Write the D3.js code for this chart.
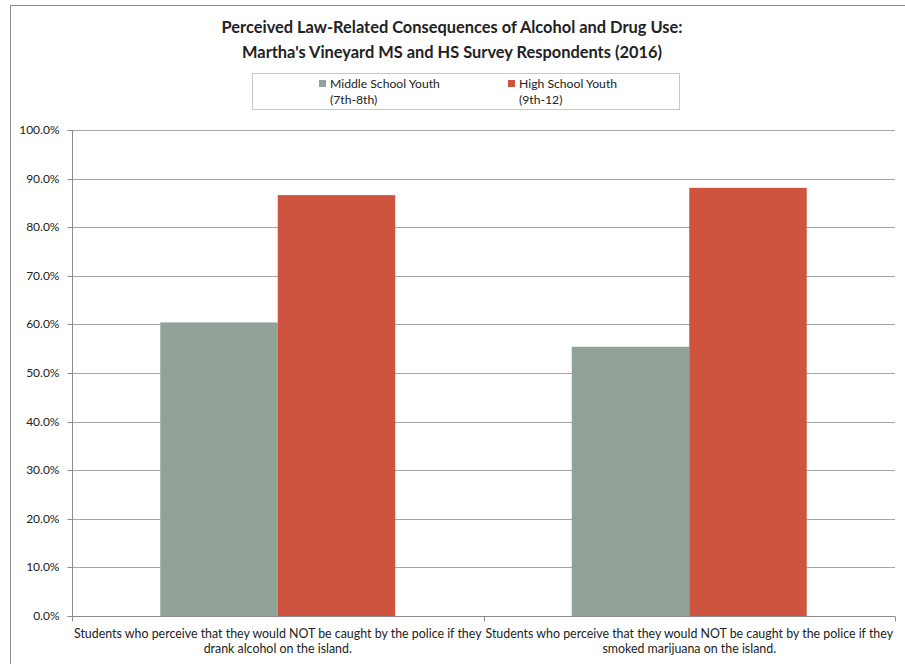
<!DOCTYPE html>
<html>
<head>
<meta charset="utf-8">
<script src="https://cdnjs.cloudflare.com/ajax/libs/d3/7.8.5/d3.min.js"></script>
<style>
  html, body { margin: 0; padding: 0; background: #fff; }
  svg { display: block; font-family: Lato, "Open Sans", sans-serif; }
</style>
</head>
<body>
<svg id="chart" width="905" height="664"></svg>
<script>
const titleLines = [
  "Perceived Law-Related Consequences of Alcohol and Drug Use:",
  "Martha's Vineyard MS and HS Survey Respondents (2016)"
];
const categories = [
  ["Students who perceive that they would NOT be caught by the police if they", "drank alcohol on the island."],
  ["Students who perceive that they would NOT be caught by the police if they", "smoked marijuana on the island."]
];
const seriesNames = [
  ["Middle School Youth", "(7th-8th)"],
  ["High School Youth", "(9th-12)"]
];
const seriesColors = ["#93a299", "#cf543f"];
const middleSchool = [60.4, 55.4];
const highSchool = [86.6, 88.1];
const yTicks = [0, 10, 20, 30, 40, 50, 60, 70, 80, 90, 100];

const svg = d3.select("#chart");
const margin = { left: 72, right: 895, top: 130, bottom: 616 };

// outer chart border
svg.append("rect").attr("x", 10.5).attr("y", 5.5).attr("width", 910).attr("height", 670)
  .attr("fill", "none").attr("stroke", "#8c8c8c").attr("stroke-width", 1);

const y = d3.scaleLinear().domain([0, 100]).range([margin.bottom, margin.top]);
const catIdx = categories.map((d, i) => i);
const x0 = d3.scaleBand().domain(catIdx).range([margin.left, margin.right]).paddingInner(0).paddingOuter(0);
const bw = x0.bandwidth();
const x1 = d3.scaleBand().domain([0, 1]).range([bw * 0.2145, bw * 0.7855]);

// gridlines
svg.append("g").selectAll("line").data(yTicks.filter(t => t > 0)).join("line")
  .attr("x1", margin.left).attr("x2", margin.right)
  .attr("y1", d => Math.round(y(d)) + 0.5).attr("y2", d => Math.round(y(d)) + 0.5)
  .attr("stroke", "#a6a6a6").attr("stroke-width", 1);

// y axis
const yAxis = d3.axisLeft(y).tickValues(yTicks).tickSize(5).tickPadding(8)
  .tickFormat(d => d.toFixed(1) + "%");
const gy = svg.append("g").attr("transform", `translate(${margin.left + 0.5},0.5)`).call(yAxis);
gy.select(".domain").attr("stroke", "#8c8c8c").attr("d", `M-5,${y(0)}H0V${y(100)}H-5`);
gy.selectAll(".tick line").attr("stroke", "#8c8c8c");
gy.selectAll(".tick text").attr("font-family", "Lato, sans-serif").attr("font-size", 12).attr("fill", "#222");
gy.selectAll(".tick").attr("transform", d => `translate(0,${Math.round(y(d))})`);

// bars
const data = catIdx.map(i => [middleSchool[i], highSchool[i]]);
const groups = svg.append("g").selectAll("g").data(data).join("g")
  .attr("transform", (d, i) => `translate(${x0(i)},0)`);
groups.selectAll("rect").data(d => d.map((v, s) => ({ v, s }))).join("rect")
  .attr("x", d => x1(d.s))
  .attr("width", x1.bandwidth())
  .attr("y", d => y(d.v))
  .attr("height", d => y(0) - y(d.v))
  .attr("fill", d => seriesColors[d.s]);

// x axis
const gx = svg.append("g").attr("transform", `translate(0,${Math.round(y(0)) + 0.5})`);
gx.append("line").attr("x1", margin.left).attr("x2", margin.right).attr("stroke", "#8c8c8c");
const boundaries = [margin.left, ...catIdx.map(i => x0(i) + bw)];
gx.selectAll("line.tk").data(boundaries).join("line").attr("class", "tk")
  .attr("x1", d => Math.round(d) + 0.5).attr("x2", d => Math.round(d) + 0.5)
  .attr("y1", 0).attr("y2", 5).attr("stroke", "#8c8c8c");
catIdx.forEach(i => {
  const t = gx.append("text").attr("text-anchor", "middle")
    .attr("font-family", "Lato, sans-serif").attr("font-size", 12.4).attr("fill", "#222");
  categories[i].forEach((line, k) => {
    t.append("tspan").attr("x", x0(i) + bw / 2).attr("y", 21 + k * 15).text(line);
  });
});

// title
const title = svg.append("text").attr("text-anchor", "middle")
  .attr("font-family", "Lato, sans-serif").attr("font-weight", "bold").attr("font-size", 16.4).attr("fill", "#222");
titleLines.forEach((line, k) => {
  title.append("tspan").attr("x", 452).attr("y", 33 + k * 25).text(line);
});

// legend
svg.append("rect").attr("x", 252.5).attr("y", 73.5).attr("width", 427).attr("height", 36)
  .attr("fill", "#fff").attr("stroke", "#c8c8c8");
const legendX = [319, 508];
seriesNames.forEach((names, s) => {
  svg.append("rect").attr("x", legendX[s]).attr("y", 80).attr("width", 7).attr("height", 7)
    .attr("fill", seriesColors[s]);
  const t = svg.append("text").attr("font-family", "Lato, sans-serif").attr("font-size", 12.2).attr("fill", "#222");
  names.forEach((n, k) => {
    t.append("tspan").attr("x", legendX[s] + 11).attr("y", 88 + k * 16).text(n);
  });
});
</script>
</body>
</html>
